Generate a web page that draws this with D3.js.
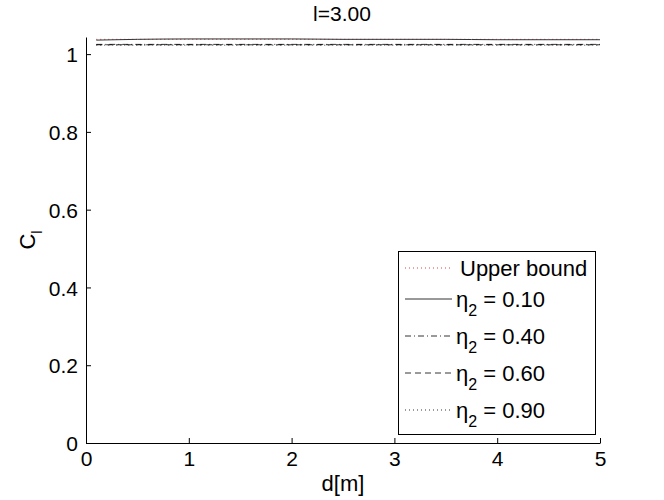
<!DOCTYPE html>
<html><head><meta charset="utf-8">
<script src="https://cdn.jsdelivr.net/npm/d3@7"></script>
<style>body{margin:0;background:#fff}svg{display:block}text{font-family:"Liberation Sans",Arial,sans-serif}</style>
</head><body><svg id="c" width="664" height="500"></svg>
<script>
const dValues = [0.1, 0.5, 1.0, 1.5, 2.0, 2.5, 3.0, 3.5, 4.0, 4.5, 5.0];
const upperBound = [1.038, 1.038, 1.038, 1.038, 1.038, 1.038, 1.038, 1.038, 1.038, 1.038, 1.038];
const eta010 = [1.036, 1.038, 1.039, 1.039, 1.039, 1.038, 1.038, 1.038, 1.037, 1.037, 1.037];
const eta040 = [1.025, 1.025, 1.025, 1.025, 1.025, 1.025, 1.025, 1.025, 1.025, 1.025, 1.025];
const eta060 = [1.024, 1.024, 1.024, 1.024, 1.024, 1.024, 1.024, 1.024, 1.024, 1.024, 1.024];
const eta090 = [1.023, 1.023, 1.023, 1.023, 1.023, 1.023, 1.023, 1.023, 1.023, 1.023, 1.023];
const xTicks = [0, 1, 2, 3, 4, 5];
const yTicks = [0, 0.2, 0.4, 0.6, 0.8, 1];
const seriesNames = ["Upper bound", "0.10", "0.40", "0.60", "0.90"];

const svg = d3.select("#c");
const L = 86, R = 600, T = 37, B = 443;
const x = d3.scaleLinear().domain([0, 5]).range([L, R]);
const y = d3.scaleLinear().domain([0, 1.044]).range([B, T]);

const series = [
  {name: seriesNames[0], v: upperBound, stroke: "#e04040", dash: "1,3", w: 1},
  {name: seriesNames[1], v: eta010, stroke: "#333", dash: null, w: 1},
  {name: seriesNames[2], v: eta040, stroke: "#000", dash: "6,3,1,3", w: 0.8},
  {name: seriesNames[3], v: eta060, stroke: "#000", dash: "6,4", w: 0.8},
  {name: seriesNames[4], v: eta090, stroke: "#000", dash: "1,3", w: 0.8}
];

const line = d3.line().x((d, i) => x(dValues[i])).y(d => y(d)).curve(d3.curveMonotoneX);
series.forEach(s => {
  svg.append("path").datum(s.v).attr("d", line).attr("fill", "none")
    .attr("stroke", s.stroke).attr("stroke-width", s.w)
    .attr("stroke-dasharray", s.dash);
});

const xAxis = d3.axisBottom(x).tickValues(xTicks).tickSizeInner(-5).tickSizeOuter(0).tickPadding(7).tickFormat(d3.format("d"));
const gx = svg.append("g").attr("transform", `translate(0,${B})`).call(xAxis);
const yAxis = d3.axisLeft(y).tickValues(yTicks).tickSizeInner(-5).tickSizeOuter(0).tickPadding(8)
  .tickFormat(d => d === 0 || d === 1 ? d3.format("d")(d) : d3.format(".1f")(d));
const gy = svg.append("g").attr("transform", `translate(${L},0)`).call(yAxis);
[gx, gy].forEach(g => {
  g.selectAll("text").attr("font-size", 21).attr("fill", "#000").attr("font-family", "Liberation Sans, Arial, sans-serif");
  g.selectAll("line").attr("stroke", "#000");
  g.select(".domain").attr("stroke", "#000");
});
gx.selectAll("text").attr("dy", "0.75em");
gy.selectAll("text").attr("dy", "0.36em");

svg.append("text").attr("x", x(2.5)).attr("y", 491).attr("text-anchor", "middle")
  .attr("font-size", 22).text("d[m]");
const yl = svg.append("text").attr("transform", `translate(35,240) rotate(-90)`)
  .attr("text-anchor", "middle").attr("font-size", 22);
yl.append("tspan").text("C");
yl.append("tspan").attr("font-size", 15).attr("dy", 7).text("l");
svg.append("text").attr("x", 342).attr("y", 21).attr("text-anchor", "middle")
  .attr("font-size", 21).text("l=3.00");

// legend
const lg = svg.append("g");
lg.append("rect").attr("x", 398.5).attr("y", 251.5).attr("width", 197).attr("height", 183)
  .attr("fill", "#fff").attr("stroke", "#000").attr("stroke-width", 1);
const rowY = [268, 299, 336, 373, 410];
series.forEach((s, i) => {
  lg.append("line").attr("x1", 405).attr("x2", 452)
    .attr("y1", rowY[i]).attr("y2", rowY[i])
    .attr("stroke", s.stroke).attr("stroke-width", s.w).attr("stroke-dasharray", s.dash);
  if (i === 0) {
    lg.append("text").attr("x", 460).attr("y", rowY[i] + 8).attr("font-size", 22).text(s.name);
  } else {
    const t = lg.append("text").attr("x", 456).attr("y", rowY[i] + 8).attr("font-size", 22);
    t.append("tspan").text("\u03b7");
    t.append("tspan").attr("font-size", 16).attr("dy", 9).text("2");
    t.append("tspan").attr("dy", -9).text(" = " + s.name);
  }
});
</script></body></html>
